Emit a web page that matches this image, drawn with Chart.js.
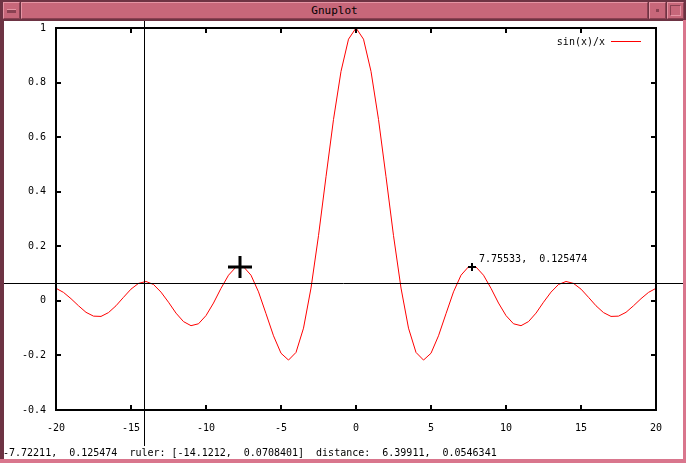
<!DOCTYPE html>
<html>
<head>
<meta charset="utf-8">
<script src="https://cdn.jsdelivr.net/npm/chart.js@4.4.1/dist/chart.umd.min.js"></script>
<style>
  body { margin: 0; }
  #win { position: relative; width: 686px; height: 463px; background: #6d3343; overflow: hidden; font-family: "DejaVu Sans Mono", monospace; }
  .bev { position: absolute; background: #c7677a; box-sizing: border-box;
         border-top: 1px solid #e595a4; border-left: 1px solid #e595a4;
         border-bottom: 1px solid #8a4152; border-right: 1px solid #8a4152; }
  #client { position: absolute; left: 4px; top: 21px; width: 679px; height: 438px; background: #fff; }
  #title { font-size: 11px; line-height: 16px; text-align: center; color: #000; }
  canvas { position: absolute; left: 0; top: 0; }
</style>
</head>
<body>
<div id="win">
  <div class="bev" style="left:3px;top:2px;width:17px;height:17px">
    <div style="position:absolute;left:3px;top:6px;width:9px;height:3px;background:#8a4152;border-top:1px solid #e595a4"></div>
  </div>
  <div class="bev" id="title" style="left:21px;top:2px;width:627px;height:17px">Gnuplot</div>
  <div class="bev" style="left:649px;top:2px;width:17px;height:17px">
    <div style="position:absolute;left:6px;top:6px;width:3px;height:3px;background:#8a4152"></div>
  </div>
  <div class="bev" style="left:667px;top:2px;width:17px;height:17px">
    <div style="position:absolute;left:2px;top:2px;width:11px;height:11px;box-sizing:border-box;border:1px solid #8a4152;border-right-color:#e595a4;border-bottom-color:#e595a4"></div>
  </div>
  <div style="position:absolute;left:683px;top:20px;width:3px;height:443px;background:#d9768d"></div>
  <div style="position:absolute;left:0;top:459px;width:686px;height:4px;background:#d9768d"></div>
  <div id="client"></div>
  <canvas id="plot" width="686" height="463"></canvas>
</div>

<script>
// sin(x)/x samples
const xValues = [
  -20, -19.5, -19, -18.5, -18, -17.5, -17, -16.5, -16, -15.5,
  -15, -14.5, -14, -13.5, -13, -12.5, -12, -11.5, -11, -10.5,
  -10, -9.5, -9, -8.5, -8, -7.5, -7, -6.5, -6, -5.5,
  -5, -4.5, -4, -3.5, -3, -2.5, -2, -1.5, -1, -0.5,
  0,
  0.5, 1, 1.5, 2, 2.5, 3, 3.5, 4, 4.5, 5,
  5.5, 6, 6.5, 7, 7.5, 8, 8.5, 9, 9.5, 10,
  10.5, 11, 11.5, 12, 12.5, 13, 13.5, 14, 14.5, 15,
  15.5, 16, 16.5, 17, 17.5, 18, 18.5, 19, 19.5, 20
];
const yValues = [
  0.046, 0.031, 0.008, -0.018, -0.042, -0.056, -0.057, -0.043, -0.018, 0.013,
  0.043, 0.064, 0.071, 0.060, 0.032, -0.005, -0.045, -0.076, -0.091, -0.084,
  -0.054, -0.008, 0.046, 0.094, 0.124, 0.125, 0.094, 0.033, -0.047, -0.128,
  -0.192, -0.217, -0.189, -0.100, 0.047, 0.239, 0.455, 0.665, 0.841, 0.959,
  1,
  0.959, 0.841, 0.665, 0.455, 0.239, 0.047, -0.100, -0.189, -0.217, -0.192,
  -0.128, -0.047, 0.033, 0.094, 0.125, 0.124, 0.094, 0.046, -0.008, -0.054,
  -0.084, -0.091, -0.076, -0.045, -0.005, 0.032, 0.060, 0.071, 0.064, 0.043,
  0.013, -0.018, -0.043, -0.057, -0.056, -0.042, -0.018, 0.008, 0.031, 0.046
];
const xTicks = [-20, -15, -10, -5, 0, 5, 10, 15, 20];
const yTicks = [-0.4, -0.2, 0, 0.2, 0.4, 0.6, 0.8, 1];
const yTickLabels = ['-0.4', '-0.2', '0', '0.2', '0.4', '0.6', '0.8', '1'];

const seriesLabel = 'sin(x)/x';
const mousePos = [-7.72211, 0.125474];
const markPos = [7.75533, 0.125474];
const markLabel = '7.75533,  0.125474';
const rulerPos = [-14.1212, 0.0708401];
const statusText = '-7.72211,  0.125474  ruler: [-14.1212,  0.0708401]  distance:  6.39911,  0.0546341';

const FONT = '10px "DejaVu Sans Mono", monospace';

// borders, inward ticks, legend, ruler, cursor and status line like the gnuplot x11 window
const gnuplotDecor = {
  id: 'gnuplotDecor',
  afterDatasetsDraw(chart) {
    const { ctx, chartArea: a, scales: { x, y } } = chart;
    ctx.save();
    ctx.strokeStyle = '#000';

    // tick marks on all four sides
    ctx.lineWidth = 2;
    ctx.beginPath();
    xTicks.forEach(v => {
      const px = Math.round(x.getPixelForValue(v));
      ctx.moveTo(px, a.bottom); ctx.lineTo(px, a.bottom - 5);
      ctx.moveTo(px, a.top); ctx.lineTo(px, a.top + 5);
    });
    yTicks.forEach(v => {
      const py = Math.round(y.getPixelForValue(v));
      ctx.moveTo(a.left, py); ctx.lineTo(a.left + 5, py);
      ctx.moveTo(a.right, py); ctx.lineTo(a.right - 5, py);
    });
    ctx.stroke();
    ctx.strokeRect(a.left, a.top, a.right - a.left, a.bottom - a.top);

    // legend
    ctx.font = FONT;
    ctx.fillStyle = '#000';
    ctx.textAlign = 'right';
    ctx.textBaseline = 'middle';
    ctx.fillText(seriesLabel, 605, 42);
    ctx.strokeStyle = '#ff0000';
    ctx.lineWidth = 1;
    ctx.beginPath();
    ctx.moveTo(611, 41.5); ctx.lineTo(641, 41.5);
    ctx.stroke();

    // ruler lines
    ctx.strokeStyle = '#000';
    const rx = Math.round(x.getPixelForValue(rulerPos[0])) + 0.5;
    const ry = Math.round(y.getPixelForValue(rulerPos[1])) + 1.5;
    ctx.beginPath();
    ctx.moveTo(4, ry); ctx.lineTo(683, ry);
    ctx.moveTo(rx, 21); ctx.lineTo(rx, 446);
    ctx.stroke();

    // marked point with its label
    const mx = Math.round(x.getPixelForValue(markPos[0]));
    const my = Math.round(y.getPixelForValue(markPos[1]));
    ctx.lineWidth = 2;
    ctx.beginPath();
    ctx.moveTo(mx - 4, my); ctx.lineTo(mx + 4, my);
    ctx.moveTo(mx, my - 4); ctx.lineTo(mx, my + 4);
    ctx.stroke();
    ctx.textAlign = 'left';
    ctx.fillText(markLabel, mx + 7, my - 8);

    // mouse cursor
    const cx = Math.round(x.getPixelForValue(mousePos[0]));
    const cy = Math.round(y.getPixelForValue(mousePos[1]));
    ctx.lineWidth = 3;
    ctx.beginPath();
    ctx.moveTo(cx - 12, cy); ctx.lineTo(cx + 12, cy);
    ctx.moveTo(cx, cy - 11); ctx.lineTo(cx, cy + 11);
    ctx.stroke();

    // status line
    ctx.textAlign = 'left';
    ctx.fillText(statusText, 3, 453);
    ctx.restore();
  }
};

const ctx = document.getElementById('plot').getContext('2d');
new Chart(ctx, {
  type: 'line',
  data: {
    datasets: [{
      label: seriesLabel,
      data: xValues.map((v, i) => ({ x: v, y: yValues[i] })),
      borderColor: '#ff0000',
      borderWidth: 1,
      pointRadius: 0,
      tension: 0,
      fill: false
    }]
  },
  options: {
    responsive: false,
    animation: false,
    devicePixelRatio: 1,
    layout: { padding: { top: 28, right: 30, left: 0, bottom: 0 } },
    plugins: { legend: { display: false }, tooltip: { enabled: false } },
    scales: {
      x: {
        type: 'linear', min: -20, max: 20,
        afterBuildTicks: s => { s.ticks = xTicks.map(v => ({ value: v })); },
        afterFit: s => { s.height = 53; },
        grid: { display: false, drawTicks: false }, border: { display: false },
        ticks: { padding: 12, color: '#000', font: { family: '"DejaVu Sans Mono", monospace', size: 10 },
                 maxRotation: 0, autoSkip: false, callback: v => String(v) }
      },
      y: {
        type: 'linear', min: -0.4, max: 1,
        afterBuildTicks: s => { s.ticks = yTicks.map(v => ({ value: v })); },
        afterFit: s => { s.width = 56; },
        grid: { display: false, drawTicks: false }, border: { display: false },
        ticks: { padding: 10, color: '#000', font: { family: '"DejaVu Sans Mono", monospace', size: 10 },
                 autoSkip: false, callback: (v, i) => yTickLabels[i] }
      }
    }
  },
  plugins: [gnuplotDecor]
});
</script>
</body>
</html>
